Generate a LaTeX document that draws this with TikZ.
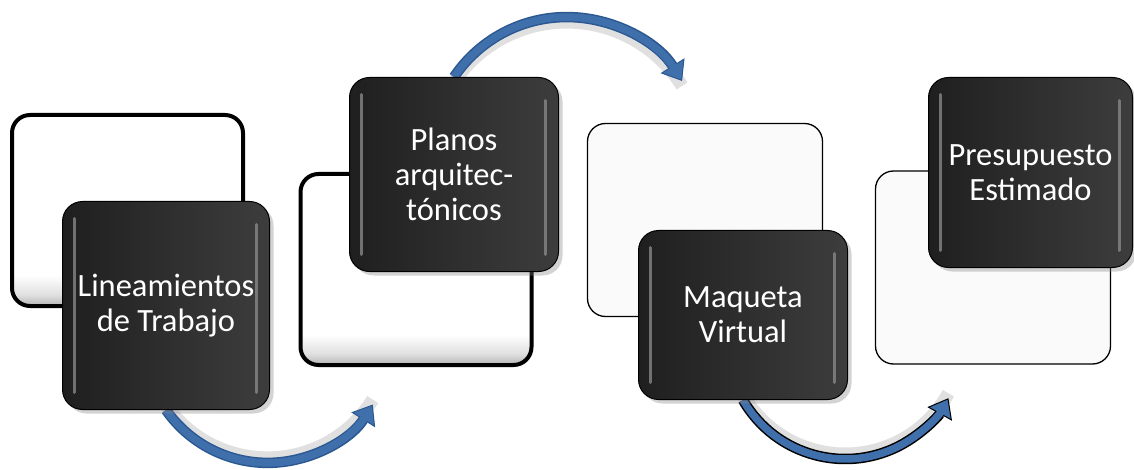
\documentclass[tikz,border=0pt]{standalone}
\usepackage{fontspec}
\setmainfont{Carlito}
\usetikzlibrary{arrows.meta, shadows, backgrounds}
\definecolor{oscuro}{HTML}{1F1F1F}
\definecolor{medio}{HTML}{3D3D3D}
\definecolor{brillo}{HTML}{8C8C8C}
\definecolor{fondo}{HTML}{FAFAFA}
\definecolor{azul}{HTML}{4070AC}
\definecolor{azulborde}{HTML}{2C5891}
\pgfdeclareverticalshading{hueco}{100bp}{color(0bp)=(black!30); color(25bp)=(black!30); color(28bp)=(black!12); color(33bp)=(white); color(100bp)=(white)}

\begin{document}
\begin{tikzpicture}[x=1pt, y=-1pt,
	marco/.style={draw=black, line width=4pt, rounded corners=18pt, shading=hueco, minimum width=231pt, minimum height=191pt},
	tenue/.style={draw=black, line width=1.3pt, rounded corners=18pt, fill=fondo, minimum width=235pt, minimum height=193pt},
	etapa/.style={draw=black, line width=1pt, rounded corners=20pt, left color=oscuro, right color=medio,
		text=white, align=center, font=\fontsize{32.5}{35}\selectfont,
		drop shadow={shadow xshift=4pt, shadow yshift=-4pt, opacity=.35},
		path picture={
			\draw[brillo, line width=3pt, line cap=round, opacity=.75]
				([xshift=12pt, yshift=-17pt]path picture bounding box.north west) -- ([xshift=12pt, yshift=17pt]path picture bounding box.south west);
			\draw[brillo, line width=3pt, line cap=round, opacity=.75]
				([xshift=-13pt, yshift=-23pt]path picture bounding box.north east) -- ([xshift=-13pt, yshift=17pt]path picture bounding box.south east);
		}},
	sombra/.style={draw=black, line width=13pt, opacity=.12},
	flecha/.style={line width=10.5pt, -{Triangle[width=28pt, length=18pt, fill=azul, line width=1pt]}},
	relleno/.style={draw=azul, line width=7.5pt, shorten >=16pt}]
	\useasboundingbox (0,0) rectangle (1134,470);
	\foreach \n/\x/\y in {hoja1/127.5/210.5, hoja2/416/269.5} \node[marco] (\n) at (\x,\y) {};
	\foreach \n/\x/\y in {hoja3/705/220, hoja4/993/267.5} \node[tenue] (\n) at (\x,\y) {};
	\node[etapa, minimum width=207pt, minimum height=208pt] (lineam) at (166,305.5) {Lineamientos\\de Trabajo};
	\node[etapa, minimum width=209pt, minimum height=194pt] (planos) at (454,174.5) {Planos\\arquitec-\\tónicos};
	\node[etapa, minimum width=209pt, minimum height=169pt] (maqueta) at (743,315) {Maqueta\\Virtual};
	\node[etapa, minimum width=204pt, minimum height=190pt] (presup) at (1030.5,172.5) {Presupuesto\\Estimado};
	\begin{pgfonlayer}{background}
		\foreach \p/\s/\e/\r/\c/\d in {lineam.south/145/32/124/azulborde/5pt, planos.north/-146/-32/136/azulborde/-5pt, maqueta.south/150/29/118/black/5pt} {
			\draw[sombra, transform canvas={yshift=\d}] (\p) arc[start angle=\s, end angle=\e, radius=\r];
			\draw[flecha, draw=\c] (\p) arc[start angle=\s, end angle=\e, radius=\r];
			\draw[relleno] (\p) arc[start angle=\s, end angle=\e, radius=\r];
		}
	\end{pgfonlayer}
\end{tikzpicture}
\end{document}
